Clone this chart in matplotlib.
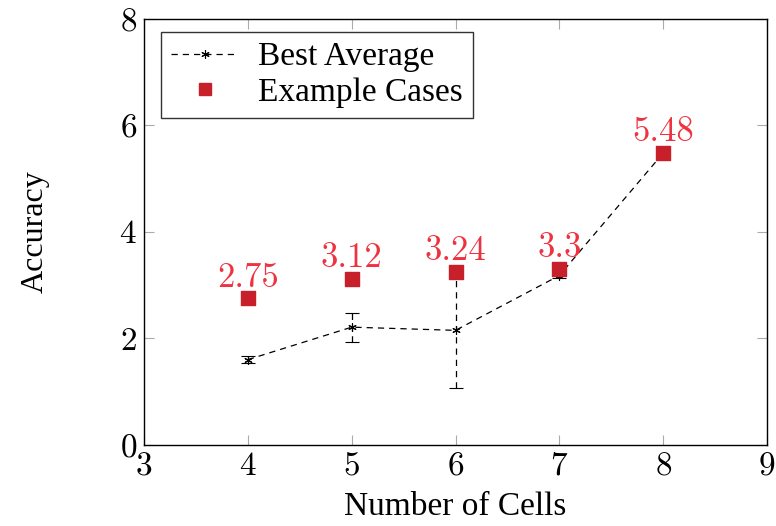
import numpy as np
import matplotlib
matplotlib.use('Agg')
import matplotlib.pyplot as plt
from matplotlib.lines import Line2D

# Datos
celdas = [4, 5, 6, 7, 8]
mejor_promedio = [1.60, 2.21, 2.15, 3.18, 5.48]
error_promedio = [0.07, 0.27, 1.09, 0.05, 0.0]
casos_ejemplo = [2.75, 3.12, 3.24, 3.3, 5.48]
etiquetas_casos = ['2.75', '3.12', '3.24', '3.3', '5.48']

plt.rcParams['font.family'] = 'serif'
plt.rcParams['font.serif'] = ['cmr10', 'DejaVu Serif']
plt.rcParams['mathtext.fontset'] = 'cm'
plt.rcParams['axes.formatter.use_mathtext'] = True

fig = plt.figure(figsize=(7.76, 5.26), dpi=100)
ax = fig.add_axes([0.1856, 0.1544, 0.8028, 0.8095])

rojo_marca = '#c8202a'
rojo_texto = '#ee3340'
guiones = (0, (5, 4))

# Línea del mejor promedio con barras de error
eb = ax.errorbar(celdas, mejor_promedio, yerr=error_promedio, color='black',
                 linestyle=guiones, linewidth=0.9, marker=(6, 2, 0),
                 markersize=6, markeredgewidth=0.8, capsize=5, capthick=0.8,
                 elinewidth=0.9, zorder=2)
for lc in eb[2]:
    lc.set_linestyle(guiones)

# Casos de ejemplo
ax.scatter(celdas, casos_ejemplo, marker='s', s=110, color=rojo_marca, zorder=3)
for xi, yi, txt in zip(celdas, casos_ejemplo, etiquetas_casos):
    ax.annotate(txt, (xi, yi), xytext=(0, 3.5), textcoords='offset points',
                ha='center', va='bottom', color=rojo_texto, fontsize=25)

ax.set_xlim(3, 9)
ax.set_ylim(0, 8)
ax.set_xticks(range(3, 10))
ax.set_yticks(range(0, 9, 2))
ax.tick_params(direction='in', length=7, width=0.8, color='#aaaaaa',
               top=True, right=True, labelsize=24, pad=5)
for sp in ax.spines.values():
    sp.set_linewidth(1.0)

ax.set_xlabel('Number of Cells', fontsize=24, family='Liberation Serif', labelpad=8)
ax.set_ylabel('Accuracy', fontsize=23, family='Liberation Serif', labelpad=50)

manejadores = [
    Line2D([], [], color='black', linestyle=guiones, linewidth=0.9,
           marker=(6, 2, 0), markersize=6, markeredgewidth=0.8),
    Line2D([], [], color=rojo_marca, linestyle='none', marker='s', markersize=8),
]
leg = ax.legend(manejadores, ['Best Average', 'Example Cases'], loc='upper left',
                bbox_to_anchor=(0.028, 0.97), borderaxespad=0.0,
                frameon=True, fancybox=False, edgecolor='black', borderpad=0.3,
                handlelength=2.0, handletextpad=0.6, labelspacing=0.15,
                prop={'family': 'Liberation Serif', 'size': 24})
leg.get_frame().set_linewidth(1.0)

plt.savefig('out.png', dpi=100)
